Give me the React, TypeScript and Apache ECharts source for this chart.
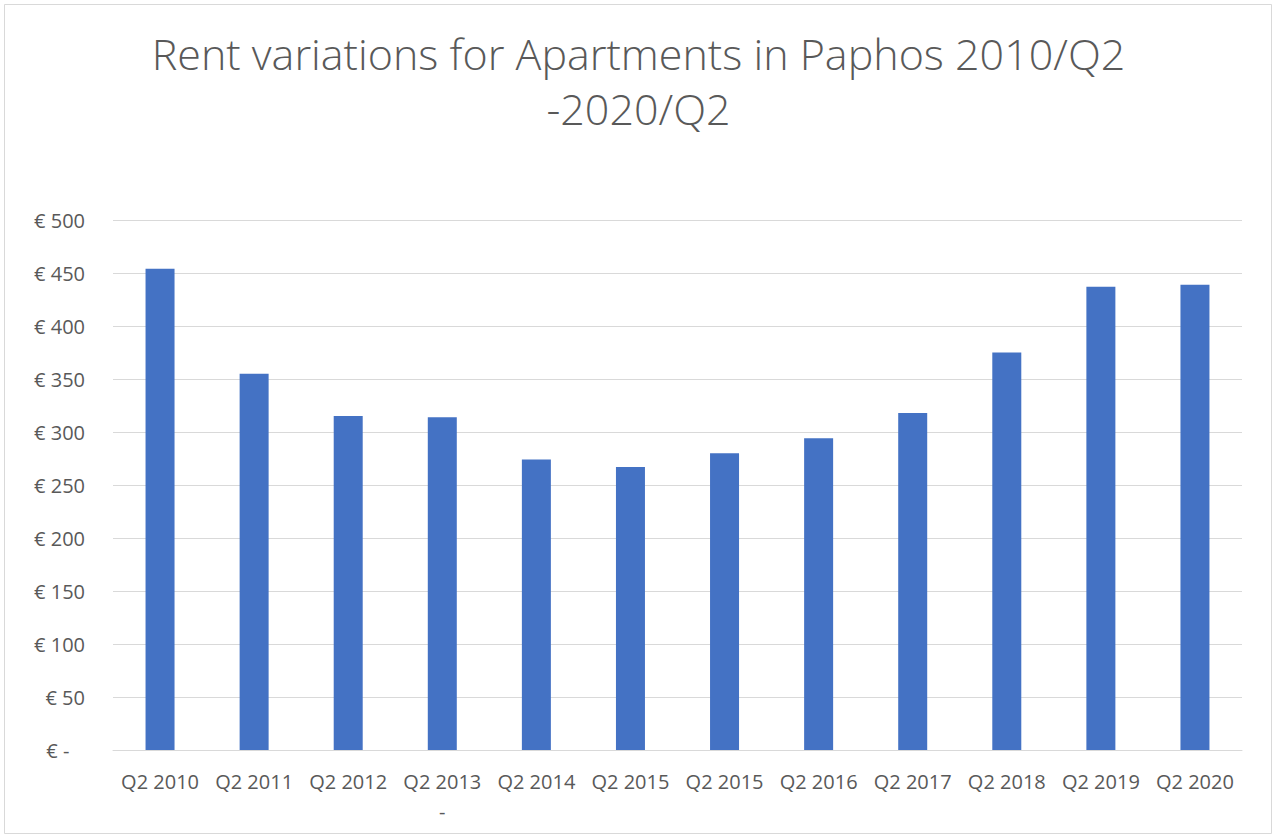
import React, { useEffect, useRef } from "react";
import * as echarts from "echarts";

const categories = [
  "Q2 2010", "Q2 2011", "Q2 2012", "Q2 2013\n-", "Q2 2014", "Q2 2015",
  "Q2 2015", "Q2 2016", "Q2 2017", "Q2 2018", "Q2 2019", "Q2 2020",
];
const rents = [454, 355, 315, 314, 274, 267, 280, 294, 318, 375, 437, 439];
const titleText = "Rent variations for Apartments in Paphos 2010/Q2\n-2020/Q2";

export default function App() {
  const ref = useRef<HTMLDivElement>(null);
  useEffect(() => {
    if (!ref.current) return;
    const chart = echarts.init(ref.current, null, { renderer: "svg" });
    const font = "'Open Sans', 'Noto Sans', sans-serif";
    chart.setOption({
      animation: false,
      backgroundColor: "#ffffff",
      textStyle: { fontFamily: font },
      title: {
        text: titleText,
        left: "center",
        top: 21,
        textStyle: {
          fontFamily: font,
          fontSize: 43,
          fontWeight: 300,
          color: "#595959",
          lineHeight: 55,
        },
      },
      graphic: [
        {
          type: "rect",
          shape: { x: 4.5, y: 4.5, width: 1267, height: 829 },
          style: { fill: "none", stroke: "#d9d9d9", lineWidth: 1 },
          silent: true,
        },
      ],
      grid: { left: 113, right: 35, top: 220, bottom: 87, containLabel: false },
      xAxis: {
        type: "category",
        data: categories,
        axisLine: { show: true, lineStyle: { color: "#d9d9d9", width: 1 } },
        axisTick: { show: false },
        axisLabel: {
          color: "#595959",
          fontSize: 20,
          margin: 16,
          lineHeight: 30,
          interval: 0,
          fontFamily: font,
        },
      },
      yAxis: {
        type: "value",
        min: 0,
        max: 500,
        interval: 50,
        axisLine: { show: false },
        axisTick: { show: false },
        splitLine: { lineStyle: { color: "#d9d9d9", width: 1 } },
        axisLabel: {
          color: "#595959",
          fontSize: 20,
          margin: 28,
          fontFamily: font,
          formatter: (v: number) => (v === 0 ? "€ -   " : "€ " + v),
        },
      },
      series: [
        {
          type: "bar",
          data: rents,
          barWidth: 29,
          itemStyle: { color: "#4472c4" },
        },
      ],
    });
    return () => chart.dispose();
  }, []);
  return (
    <div
      ref={ref}
      style={{ position: "fixed", left: 0, top: 0, width: 1277, height: 837 }}
    />
  );
}
